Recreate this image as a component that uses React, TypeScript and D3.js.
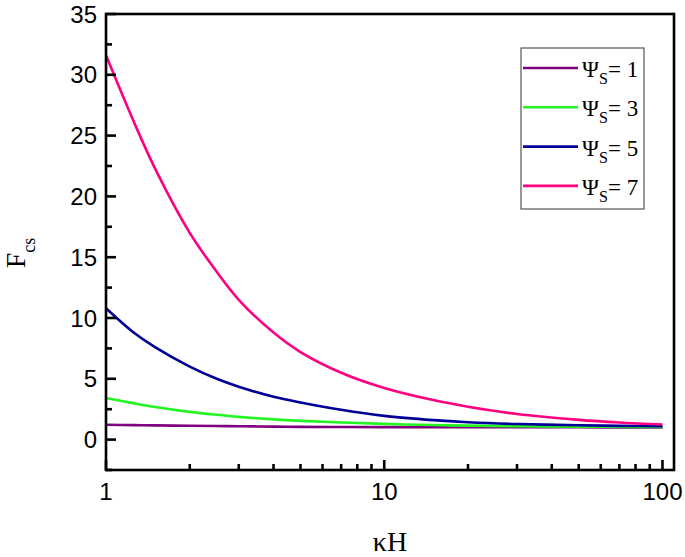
import React from "react";
import * as d3 from "d3";

const kH = [1, 1.25, 1.5, 2, 2.5, 3, 4, 5, 7, 10, 15, 20, 30, 50, 70, 100];
const psi1 = [1.22, 1.19, 1.17, 1.14, 1.12, 1.1, 1.07, 1.05, 1.04, 1.03, 1.02, 1.02, 1.01, 1.01, 1.0, 1.0];
const psi3 = [3.42, 3.0, 2.68, 2.28, 2.04, 1.87, 1.66, 1.54, 1.41, 1.29, 1.2, 1.15, 1.1, 1.07, 1.05, 1.04];
const psi5 = [10.8, 8.85, 7.6, 6.0, 5.0, 4.35, 3.52, 3.05, 2.45, 1.95, 1.6, 1.43, 1.28, 1.18, 1.13, 1.1];
const psi7 = [31.6, 26.3, 22.3, 17.0, 13.8, 11.5, 8.8, 7.2, 5.5, 4.25, 3.25, 2.7, 2.1, 1.62, 1.4, 1.24];

const seriesNames = ["1", "3", "5", "7"];
const seriesValues = [psi1, psi3, psi5, psi7];
const seriesColors = ["#800080", "#22f522", "#000099", "#ff0080"];

const yMajor = [0, 5, 10, 15, 20, 25, 30, 35];
const yMinor = [-2.5, 2.5, 7.5, 12.5, 17.5, 22.5, 27.5, 32.5];
const xMajor = [1, 10, 100];
const xMinor = [2, 3, 4, 5, 6, 7, 8, 9, 20, 30, 40, 50, 60, 70, 80, 90];

const W = 685;
const H = 557;
const left = 106;
const right = 674;
const top = 14;
const bottom = 470;

export default function App() {
  const x = d3.scaleLog().domain([1, 110]).range([left, right]);
  const y = d3.scaleLinear().domain([-2.5, 35]).range([bottom, top]);
  const line = d3
    .line<[number, number]>()
    .x((d) => x(d[0]))
    .y((d) => y(d[1]))
    .curve(d3.curveCatmullRom.alpha(0.5));

  const sans = "'Liberation Sans', Arial, sans-serif";
  const serif = "'Liberation Serif', 'Times New Roman', serif";

  return (
    <svg
      width={W}
      height={H}
      style={{ position: "absolute", left: 0, top: 0, background: "#fff" }}
    >
      <rect x={0} y={0} width={W} height={H} fill="#fff" />
      {seriesValues.map((vals, i) => (
        <path
          key={i}
          d={line(kH.map((k, j) => [k, vals[j]] as [number, number])) || ""}
          fill="none"
          stroke={seriesColors[i]}
          strokeWidth={2.6}
        />
      ))}
      {/* frame */}
      <rect
        x={left}
        y={top}
        width={right - left}
        height={bottom - top}
        fill="none"
        stroke="#000"
        strokeWidth={2.6}
      />
      {/* y ticks */}
      {yMajor.map((v) => (
        <g key={"ym" + v}>
          <line x1={left} x2={left + 10} y1={y(v)} y2={y(v)} stroke="#000" strokeWidth={2.6} />
          <text
            x={left - 9}
            y={y(v)}
            dy="0.36em"
            textAnchor="end"
            fontFamily={sans}
            fontSize={24}
            fill="#000"
          >
            {v}
          </text>
        </g>
      ))}
      {yMinor.map((v) => (
        <line key={"yn" + v} x1={left} x2={left + 6} y1={y(v)} y2={y(v)} stroke="#000" strokeWidth={2.6} />
      ))}
      {/* x ticks */}
      {xMajor.map((v) => (
        <g key={"xm" + v}>
          <line x1={x(v)} x2={x(v)} y1={bottom} y2={bottom - 10} stroke="#000" strokeWidth={2.6} />
          <text
            x={x(v)}
            y={500}
            textAnchor="middle"
            fontFamily={sans}
            fontSize={24}
            fill="#000"
          >
            {v}
          </text>
        </g>
      ))}
      {xMinor.map((v) => (
        <line key={"xn" + v} x1={x(v)} x2={x(v)} y1={bottom} y2={bottom - 6} stroke="#000" strokeWidth={2.6} />
      ))}
      {/* axis titles */}
      <text x={390} y={551} textAnchor="middle" fontFamily={serif} fontSize={28} fill="#000">
        κH
      </text>
      <text
        transform="translate(25,253) rotate(-90)"
        textAnchor="middle"
        fontFamily={serif}
        fontSize={28}
        fill="#000"
      >
        F
        <tspan fontSize={18} dy={10}>
          cs
        </tspan>
      </text>
      {/* legend */}
      <rect x={521} y={48} width={123} height={161} fill="#fff" stroke="#555" strokeWidth={1.2} />
      {seriesNames.map((n, i) => {
        const ly = 68 + i * 39.3;
        return (
          <g key={"lg" + i}>
            <line x1={523} x2={578} y1={ly} y2={ly} stroke={seriesColors[i]} strokeWidth={2.6} />
            <text x={582} y={ly + 9} fontFamily={serif} fontSize={23} fill="#000">
              Ψ
              <tspan fontSize={16} dy={7}>
                S
              </tspan>
              <tspan dy={-7}>= {n}</tspan>
            </text>
          </g>
        );
      })}
    </svg>
  );
}
